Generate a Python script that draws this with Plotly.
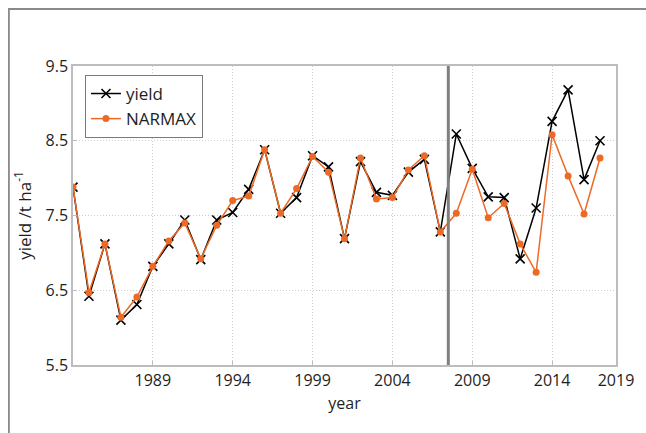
import plotly.graph_objects as go

# Annual yield observations and the NARMAX model output
years = list(range(1984, 2018))
yield_obs = [7.88, 6.42, 7.12, 6.10, 6.31, 6.82, 7.12, 7.44, 6.91, 7.44,
             7.54, 7.85, 8.38, 7.53, 7.74, 8.30, 8.15, 7.19, 8.22, 7.81,
             7.77, 8.08, 8.25, 7.28, 8.59, 8.13, 7.75, 7.74, 6.92, 7.60,
             8.76, 9.18, 7.98, 8.50]
narmax = [7.88, 6.47, 7.12, 6.14, 6.41, 6.82, 7.16, 7.40, 6.92, 7.37,
          7.70, 7.76, 8.38, 7.53, 7.86, 8.29, 8.08, 7.19, 8.27, 7.72,
          7.74, 8.11, 8.30, 7.28, 7.53, 8.12, 7.47, 7.66, 7.12, 6.74,
          8.58, 8.03, 7.52, 8.27]

# Boundary between the fitting and the prediction period
split_year = 2007.5

x_tickvals = [1989, 1994, 1999, 2004, 2009, 2014, 2018]
x_ticktext = ["1989", "1994", "1999", "2004", "2009", "2014", "2019"]
y_tickvals = [5.5, 6.5, 7.5, 8.5, 9.5]

FONT = "Open Sans, Noto Sans, sans-serif"
ORANGE = "#EC6A26"
TEXT = "#1e1e1e"

fig = go.Figure()
fig.add_trace(go.Scatter(
    x=years, y=yield_obs, name="yield", mode="lines+markers",
    line=dict(color="black", width=1.5),
    marker=dict(symbol="x-thin", size=9, line=dict(color="black", width=1.6)),
))
fig.add_trace(go.Scatter(
    x=years, y=narmax, name="NARMAX", mode="lines+markers",
    line=dict(color=ORANGE, width=1.5),
    marker=dict(symbol="circle", size=7, color=ORANGE),
))

fig.add_shape(type="line", xref="x", yref="paper", x0=split_year, x1=split_year,
              y0=0, y1=1, line=dict(color="#7f7f7f", width=3), layer="above")

# Outer frame lines (left and top edges)
fig.add_shape(type="path", xref="paper", yref="paper",
              path="M -0.118,-0.3 L -0.118,1.1906 L 1.2,1.1906",
              line=dict(color="#8a8a8a", width=1.8))

axis_common = dict(
    showline=True, linecolor="#bdbdbd", linewidth=1.5, mirror=True,
    showgrid=True, gridcolor="#cfcfcf", griddash="1px,2px", gridwidth=1,
    ticks="inside", ticklen=4, tickcolor="#bdbdbd",
    tickfont=dict(family=FONT, size=16, color=TEXT),
    zeroline=False,
)

fig.update_xaxes(
    range=[1984, 2018], tickvals=x_tickvals, ticktext=x_ticktext,
    title=dict(text="year", font=dict(family=FONT, size=16, color=TEXT), standoff=8),
    **axis_common,
)
fig.update_yaxes(
    range=[5.5, 9.5], tickvals=y_tickvals,
    title=dict(text="yield /t ha<sup>-1</sup>", font=dict(family=FONT, size=17, color=TEXT), standoff=10),
    **axis_common,
)

fig.update_layout(
    width=646, height=433,
    margin=dict(l=73, r=23, t=66, b=68),
    paper_bgcolor="white", plot_bgcolor="white",
    font=dict(family=FONT, size=16, color=TEXT),
    legend=dict(
        x=0.022, y=0.97, xanchor="left", yanchor="top",
        bgcolor="white", bordercolor="#7a7a7a", borderwidth=1,
        font=dict(family=FONT, size=17, color=TEXT),
        itemwidth=30, tracegroupgap=0,
    ),
    showlegend=True,
)

fig.write_html("out.html")
